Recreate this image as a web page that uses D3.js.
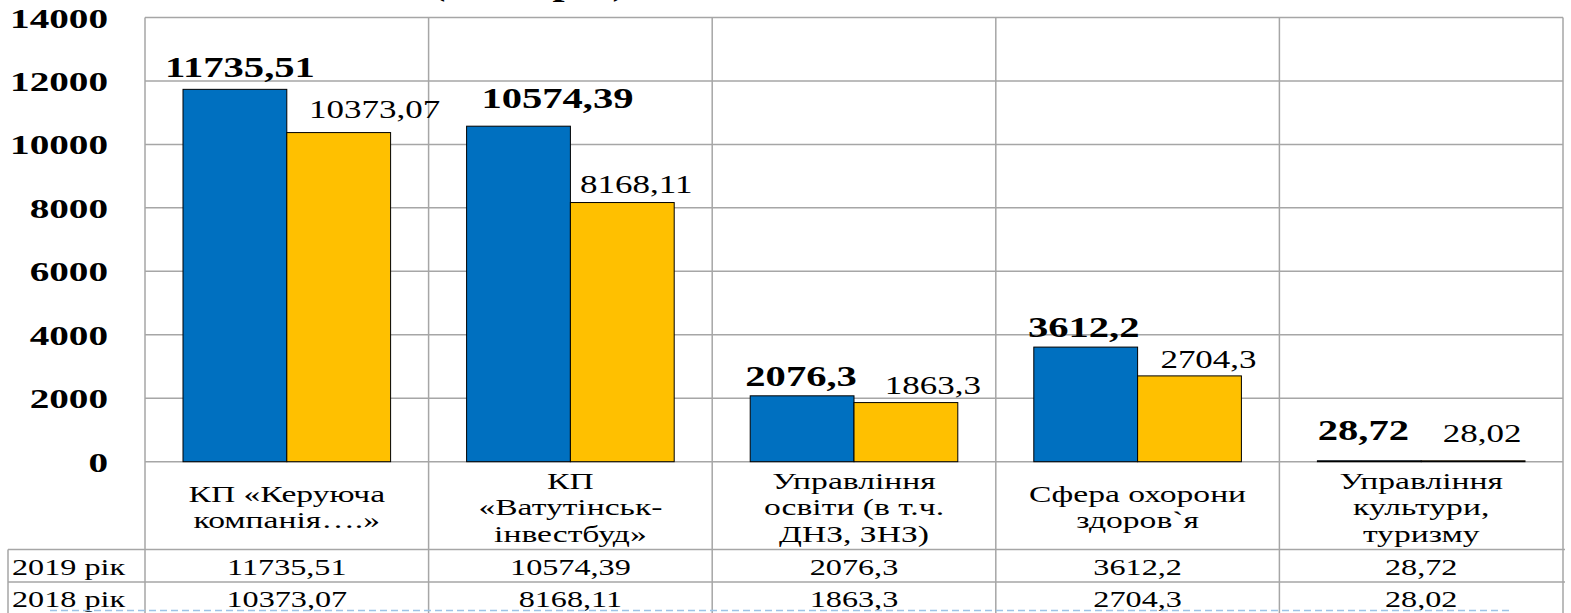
<!DOCTYPE html>
<html><head><meta charset="utf-8">
<script src="https://cdn.jsdelivr.net/npm/d3@7"></script>
<style>
html,body{margin:0;padding:0;background:#fff;overflow:hidden}
svg{display:block}
</style></head>
<body>
<script>
// ---- data ----
const categories = [
  ["КП «Керуюча", "компанія….»"],
  ["КП", "«Ватутінськ-", "інвестбуд»"],
  ["Управління", "освіти (в т.ч.", "ДНЗ, ЗНЗ)"],
  ["Сфера охорони", "здоров`я"],
  ["Управління", "культури,", "туризму"]
];
const seriesNames = ["2019 рік", "2018 рік"];
const values2019 = [11735.51, 10574.39, 2076.3, 3612.2, 28.72];
const values2018 = [10373.07, 8168.11, 1863.3, 2704.3, 28.02];
const labels2019 = ["11735,51", "10574,39", "2076,3", "3612,2", "28,72"];
const labels2018 = ["10373,07", "8168,11", "1863,3", "2704,3", "28,02"];
const yTicks = [0, 2000, 4000, 6000, 8000, 10000, 12000, 14000];
const titleText = "(тис. грн.)";

// ---- layout ----
const W = 1571, H = 613;
const SX = 1.4; // horizontal stretch of the original picture
const FONT = "'Liberation Serif', 'Times New Roman', serif";
const plot = {left: 145, right: 1563, top: 17.5, bottom: 461.7};
const colors = ["#0070C0", "#FFC000"];
const grid = "#A6A6A6";
// manual label offsets (as placed in the original)
const nudge2019 = [[5,-2],[39,-8],[-1,0],[-2,0],[-6,-11]];
const nudge2018 = [[36,-5],[14,0],[27,1],[19,2],[9,-9]];

const svg = d3.select("body").append("svg").attr("width", W).attr("height", H);

const x = d3.scaleBand().domain(d3.range(categories.length)).range([plot.left, plot.right]).paddingInner(0).paddingOuter(0);
const inner = d3.scaleBand().domain([0,1]).range([38, x.bandwidth() - 38]).padding(0);
const y = d3.scaleLinear().domain([0, 14000]).range([plot.bottom, plot.top]);

function stext(g, tx, ty, str, opts) {
  const t = g.append("text")
    .attr("transform", `translate(${tx},${ty}) scale(${SX},1)`)
    .attr("text-anchor", opts.anchor || "middle")
    .attr("font-family", FONT)
    .attr("font-size", opts.size)
    .attr("font-weight", opts.bold ? "bold" : "normal")
    .attr("fill", "#000")
    .text(str);
  if (opts.dy) t.attr("dy", opts.dy);
  return t;
}

// title (cut off at top, as in the original)
stext(svg, 529, -5, titleText, {size: 31, bold: true});

// horizontal gridlines
svg.append("g").selectAll("line").data(yTicks).join("line")
  .attr("x1", plot.left).attr("x2", plot.right)
  .attr("y1", d => y(d)).attr("y2", d => y(d))
  .attr("stroke", grid).attr("stroke-width", 1.5);

// table geometry
const row1 = 549.5, row2 = 582, tableBottom = 614, tableLeft = 8;

// vertical lines (category boundaries, extending through table)
const bounds = d3.range(categories.length + 1).map(i => i < categories.length ? x(i) : plot.right);
svg.append("g").selectAll("line").data(bounds).join("line")
  .attr("x1", d => d).attr("x2", d => d)
  .attr("y1", plot.top).attr("y2", tableBottom)
  .attr("stroke", grid).attr("stroke-width", 1.5);

// table horizontal lines
svg.append("g").selectAll("line").data([row1, row2]).join("line")
  .attr("x1", tableLeft).attr("x2", plot.right + 2)
  .attr("y1", d => d).attr("y2", d => d)
  .attr("stroke", grid).attr("stroke-width", 1.5);
svg.append("line").attr("x1", tableLeft).attr("x2", tableLeft).attr("y1", row1).attr("y2", tableBottom)
  .attr("stroke", grid).attr("stroke-width", 1.5);

// y axis labels
const yAxis = d3.axisLeft(y).tickValues(yTicks).tickSize(0).tickFormat(d3.format("d"));
const ya = svg.append("g").attr("transform", `translate(${plot.left},0)`).call(yAxis);
ya.select(".domain").remove();
ya.selectAll(".tick text").remove();
ya.selectAll(".tick").each(function(d) {
  stext(d3.select(this), 108 - plot.left, 0, String(d), {size: 28, bold: true, anchor: "end", dy: "0.34em"});
});

// bars
const series = [values2019, values2018];
series.forEach((vals, s) => {
  svg.append("g").selectAll("rect").data(vals).join("rect")
    .attr("x", (d, i) => x(i) + inner(s))
    .attr("width", inner.bandwidth())
    .attr("y", d => y(d))
    .attr("height", d => y(0) - y(d))
    .attr("fill", colors[s])
    .attr("stroke", "#000").attr("stroke-width", 1);
});

// value labels
values2019.forEach((v, i) => {
  stext(svg, x(i) + inner(0) + inner.bandwidth()/2 + nudge2019[i][0], y(v) - 10 + nudge2019[i][1], labels2019[i], {size: 29, bold: true});
});
values2018.forEach((v, i) => {
  stext(svg, x(i) + inner(1) + inner.bandwidth()/2 + nudge2018[i][0], y(v) - 10 + nudge2018[i][1], labels2018[i], {size: 25});
});

// category labels
categories.forEach((lines, i) => {
  const cx = x(i) + x.bandwidth()/2;
  const lh = 26.5;
  const mid = 507;
  lines.forEach((ln, k) => {
    const by = mid + (k - (lines.length - 1)/2) * lh;
    stext(svg, cx, by + 8, ln, {size: 24});
  });
});

// table rows
[[labels2019, row1, seriesNames[0]], [labels2018, row2, seriesNames[1]]].forEach(([labs, top, name]) => {
  stext(svg, 12, top + 25, name, {size: 23, anchor: "start"});
  labs.forEach((l, i) => {
    stext(svg, x(i) + x.bandwidth()/2, top + 25, l, {size: 23});
  });
});

// dashed selection line at bottom
svg.append("line").attr("x1", 50).attr("x2", 1512).attr("y1", 610.5).attr("y2", 610.5)
  .attr("stroke", "#9DC3E6").attr("stroke-width", 1.5).attr("stroke-dasharray", "7,4");
</script>
</body></html>
